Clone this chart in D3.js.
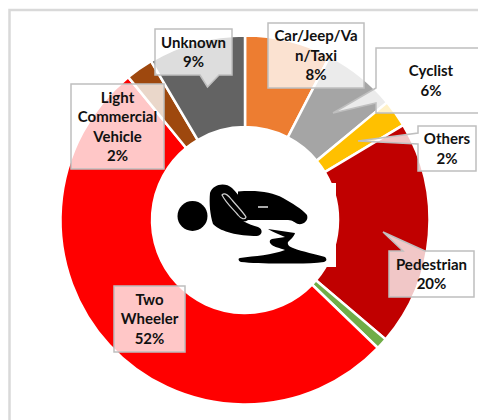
<!DOCTYPE html>
<html><head><meta charset="utf-8">
<style>html,body{margin:0;padding:0;background:#fff}svg{display:block}</style>
<script src="https://cdn.jsdelivr.net/npm/d3@7"></script></head>
<body><svg id="c" width="478" height="420"></svg>
<script>
const categories = ["Car/Jeep/Van/Taxi","Cyclist","Others","Pedestrian","Unlabelled","Two Wheeler","Light Commercial Vehicle","Unknown"];
const values = [7.6,6.4,2.4,19.8,1,51.9,2.4,8.5];
const colors = ["#ED7D31","#A5A5A5","#FFC000","#C00000","#70AD47","#FF0000","#9E480E","#636363"];
const labelLines = [["Car/Jeep/Va","n/Taxi","8%"],["Cyclist","6%"],["Others","2%"],["Pedestrian","20%"],null,["Two","Wheeler","52%"],["Light","Commercial","Vehicle","2%"],["Unknown","9%"]];

const svg = d3.select("#c");
const cx=245, cy=220, R=184.5, r=93;

// frame
svg.append("path").attr("d","M9.5,420V10H478").attr("fill","none").attr("stroke","#D9D9D9").attr("stroke-width",2.5);

const pie = d3.pie().value(d=>d).sort(null);
const arc = d3.arc().innerRadius(r).outerRadius(R);
const g = svg.append("g").attr("transform",`translate(${cx},${cy})`);
g.selectAll("path").data(pie(values)).join("path")
  .attr("d",arc).attr("fill",(d,i)=>colors[i]).attr("stroke","#fff").attr("stroke-width",2.5);

// icon backing and icon
svg.append("rect").attr("x",172).attr("y",183).attr("width",164).attr("height",84).attr("fill","#fff");
const icon = svg.append("g").attr("fill","#000");
icon.append("circle").attr("cx",192.5).attr("cy",216).attr("r",15);
// torso
icon.append("path").attr("d","M238,191.5 C258,190 272,192 283,198 C292,203 302,209 307,215 C309,221 303,225 298,224 C295,223 293,220 288,220 L238,220 Z");
// folded arm
icon.append("path").attr("d","M210,193 C213,184 225,182 232,188 C240,196 246,205 249,214 C250,220 247,222 243,221 C248,224 254,226 258,227 C263,229 263,235 257,236 C248,236 238,235 231,233 C224,231 218,229 213,224 C210,215 209,203 210,193 Z");
icon.append("path").attr("d","M222,195 C225,192 229,196 232,200 C237,206 243,212 246,217 C245,220 241,219 238,215 C233,209 226,203 222,195 Z").attr("fill","none").attr("stroke","#d0d0d0").attr("stroke-width",1.2);
icon.append("rect").attr("x",258).attr("y",206).attr("width",10).attr("height",2).attr("fill","#aaa");
// puddle
icon.append("path").attr("d","M268,229 L295,233 C294,237 290,240 288,242 C287,245 290,247 293,248 C303,252 316,254 325,257 C327,259 327,261 324,262 C312,264 295,263.5 280,263.5 C265,263.5 250,263 241,262 C238,261 238,258 240,258 C255,256 272,255 285,250 C280,248 274,247 272,245 C269,243 269,240 272,239 C276,238 281,238 285,237 C279,234 272,232 268,229 Z");

// label boxes
const boxes = {
 0:{x:268,y:23,w:96,h:65},
 1:{x:376,y:48,w:104,h:65,tip:[333,113],side:"L",b:[88,103]},
 2:{x:418,y:126,w:58,h:45,tip:[358,141],side:"L",b:[133,144]},
 3:{x:389,y:251,w:85,h:46,tip:[383,232],side:"T",b:[403,425]},
 5:{x:114,y:286,w:71,h:66},
 6:{x:71,y:84,w:93,h:85},
 7:{x:155,y:29,w:77,h:46,tip:[207.5,87],side:"B",b:[200,219]}
};
const lineH=19.5;
labelLines.forEach((lines,i)=>{
  if(!lines) return;
  const b=boxes[i], x0=b.x,y0=b.y,x1=b.x+b.w,y1=b.y+b.h;
  let d;
  if(b.side==="L") d=`M${x0},${y0}H${x1}V${y1}H${x0}V${b.b[1]}L${b.tip[0]},${b.tip[1]}L${x0},${b.b[0]}Z`;
  else if(b.side==="T") d=`M${x0},${y0}H${b.b[0]}L${b.tip[0]},${b.tip[1]}L${b.b[1]},${y0}H${x1}V${y1}H${x0}Z`;
  else if(b.side==="B") d=`M${x0},${y0}H${x1}V${y1}H${b.b[1]}L${b.tip[0]},${b.tip[1]}L${b.b[0]},${y1}H${x0}Z`;
  else d=`M${x0},${y0}H${x1}V${y1}H${x0}Z`;
  svg.append("path").attr("d",d).attr("fill","#fff").attr("fill-opacity",0.78).attr("stroke","#BFBFBF").attr("stroke-width",1.5);
  const mid=(y0+y1)/2, start=mid-(lines.length-1)*lineH/2;
  const tx = i===1 ? 431 : (x0+x1)/2;
  lines.forEach((t,k)=>{
    svg.append("text").attr("x",tx).attr("y",start+k*lineH).attr("dy","0.35em")
      .attr("text-anchor","middle").attr("font-family","Lato").attr("font-weight",700).attr("font-size",15).attr("fill","#111").text(t);
  });
});
</script></body></html>
